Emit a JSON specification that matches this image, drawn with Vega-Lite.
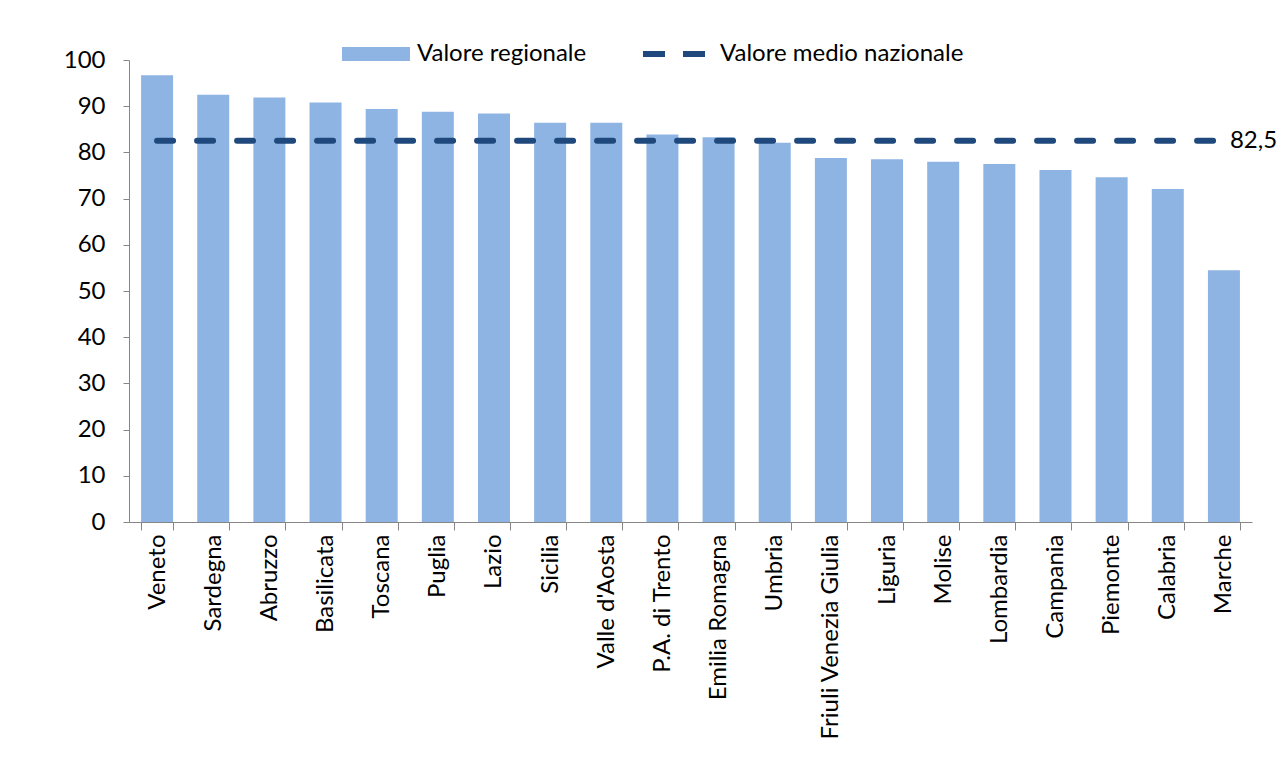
{
  "$schema": "https://vega.github.io/schema/vega-lite/v6.json",
  "autosize": {"type": "none"},
  "padding": {"left": 129, "top": 60, "right": 32, "bottom": 261},
  "width": 1123,
  "height": 462,
  "background": "white",
  "config": {
    "view": {"stroke": null},
    "font": "Lato",
    "axis": {"labelFont": "Lato", "labelFontSize": 24, "labelColor": "#000000", "domainColor": "#868686", "tickColor": "#868686", "grid": false, "title": null}
  },
  "data": {
    "values": [
      {"regione": "Veneto", "valore": 96.7, "nazionale": 82.5},
      {"regione": "Sardegna", "valore": 92.5, "nazionale": 82.5},
      {"regione": "Abruzzo", "valore": 91.9, "nazionale": 82.5},
      {"regione": "Basilicata", "valore": 90.8, "nazionale": 82.5},
      {"regione": "Toscana", "valore": 89.4, "nazionale": 82.5},
      {"regione": "Puglia", "valore": 88.8, "nazionale": 82.5},
      {"regione": "Lazio", "valore": 88.4, "nazionale": 82.5},
      {"regione": "Sicilia", "valore": 86.4, "nazionale": 82.5},
      {"regione": "Valle d'Aosta", "valore": 86.4, "nazionale": 82.5},
      {"regione": "P.A. di Trento", "valore": 83.9, "nazionale": 82.5},
      {"regione": "Emilia Romagna", "valore": 83.3, "nazionale": 82.5},
      {"regione": "Umbria", "valore": 82.1, "nazionale": 82.5},
      {"regione": "Friuli Venezia Giulia", "valore": 78.8, "nazionale": 82.5},
      {"regione": "Liguria", "valore": 78.5, "nazionale": 82.5},
      {"regione": "Molise", "valore": 78.0, "nazionale": 82.5},
      {"regione": "Lombardia", "valore": 77.5, "nazionale": 82.5},
      {"regione": "Campania", "valore": 76.2, "nazionale": 82.5},
      {"regione": "Piemonte", "valore": 74.6, "nazionale": 82.5},
      {"regione": "Calabria", "valore": 72.1, "nazionale": 82.5},
      {"regione": "Marche", "valore": 54.5, "nazionale": 82.5}
    ]
  },
  "encoding": {
    "x": {
      "field": "regione", "type": "nominal", "sort": null,
      "scale": {"paddingInner": 0.43, "paddingOuter": 0.215},
      "axis": {"labelAngle": -90, "tickBand": "extent", "tickSize": 8, "labelPadding": 4, "labelFontSize": 24, "labelLimit": 400}
    }
  },
  "layer": [
    {
      "mark": {"type": "bar"},
      "encoding": {
        "y": {
          "field": "valore", "type": "quantitative",
          "scale": {"domain": [0, 100], "nice": false},
          "axis": {"values": [0, 10, 20, 30, 40, 50, 60, 70, 80, 90, 100], "tickSize": 6, "labelPadding": 18, "labelFontSize": 24}
        },
        "fill": {
          "datum": "Valore regionale",
          "scale": {"range": ["#8EB4E3"]},
          "legend": {
            "orient": "none", "legendX": 213, "legendY": -40, "title": null,
            "symbolType": "M-1,-0.206H1V0.206H-1Z", "symbolSize": 4624,
            "symbolStrokeWidth": 0, "labelFontSize": 24, "labelFont": "Lato", "labelColor": "#000000", "labelOffset": 7, "labelLimit": 500
          }
        }
      }
    },
    {
      "mark": {"type": "line", "strokeWidth": 6, "strokeDash": [16, 24], "strokeCap": "round"},
      "encoding": {
        "y": {"field": "nazionale", "type": "quantitative"},
        "stroke": {
          "datum": "Valore medio nazionale",
          "scale": {"range": ["#1F497D"]},
          "legend": {
            "orient": "none", "legendX": 511, "legendY": -40, "title": null,
            "symbolType": "stroke", "symbolSize": 3844, "symbolStrokeWidth": 6, "symbolDash": [22, 18],
            "labelFontSize": 24, "labelFont": "Lato", "labelColor": "#000000", "labelOffset": 12, "labelLimit": 500
          }
        }
      }
    },
    {
      "data": {"values": [{"regione": "Marche", "nazionale": 82.5, "etichetta": "82,5"}]},
      "mark": {"type": "text", "align": "left", "baseline": "middle", "dx": 6, "fontSize": 24, "font": "Lato", "color": "#000000"},
      "encoding": {
        "y": {"field": "nazionale", "type": "quantitative"},
        "text": {"field": "etichetta"}
      }
    }
  ]
}
